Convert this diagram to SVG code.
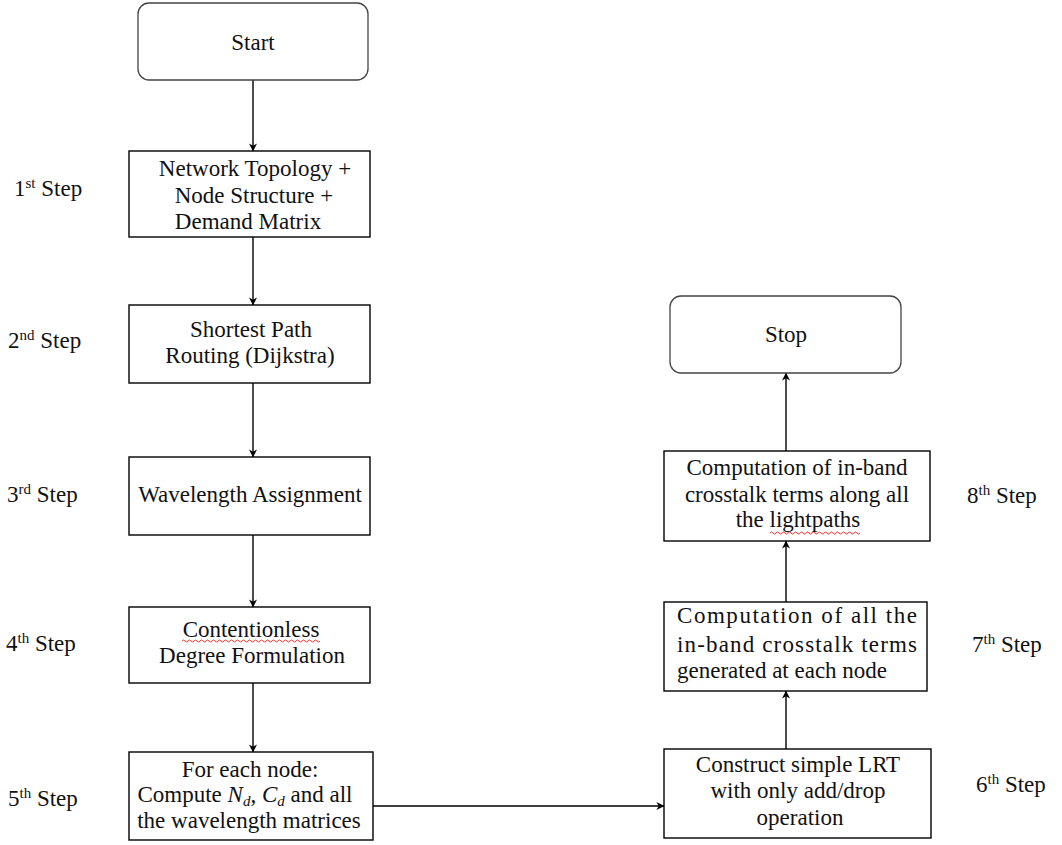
<svg xmlns="http://www.w3.org/2000/svg" width="1062" height="845" viewBox="0 0 1062 845" style="font-family:'Liberation Serif',serif">
  <style>
    text, tspan { font-family: 'Liberation Serif', 'Times New Roman', serif !important; }
    .box { fill: #fff; stroke: #000; stroke-width: 1.4; }
    .term { fill: #fff; stroke: #444; stroke-width: 1.3; }
    .txt { font-size: 23px; fill: #111; }
    .mid { text-anchor: middle; }
    .sup { font-size: 15px; }
    .sub { font-size: 15px; }
    .edge { stroke: #000; stroke-width: 1.4; fill: none; marker-end: url(#arrow); }
    .squiggle { stroke: #e02020; stroke-width: 0.9; fill: none; }
  </style>
  <defs>
    <marker id="arrow" viewBox="0 0 10 10" refX="9.5" refY="5" markerWidth="8" markerHeight="8" markerUnits="userSpaceOnUse" orient="auto">
      <path d="M0,0 L10,5 L0,10 L3,5 Z" fill="#000"/>
    </marker>
  </defs>
  <rect width="1062" height="845" fill="#fff"/>

  <!-- connectors -->
  <g id="connectors">
    <line class="edge" x1="253" y1="80" x2="253" y2="151"/>
    <line class="edge" x1="253" y1="237" x2="253" y2="305"/>
    <line class="edge" x1="253" y1="383" x2="253" y2="457"/>
    <line class="edge" x1="253" y1="535" x2="253" y2="607"/>
    <line class="edge" x1="253" y1="683" x2="253" y2="752"/>
    <line class="edge" x1="373" y1="806" x2="664" y2="806"/>
    <line class="edge" x1="786" y1="749" x2="786" y2="691"/>
    <line class="edge" x1="786" y1="602" x2="786" y2="541"/>
    <line class="edge" x1="786" y1="451" x2="786" y2="373"/>
  </g>

  <!-- terminal nodes -->
  <g id="start">
    <rect class="term" x="138" y="3" width="230" height="77" rx="11"/>
    <text class="txt mid" style="font-family:'Liberation Serif'" x="253" y="50">Start</text>
  </g>
  <g id="stop">
    <rect class="term" x="670" y="296" width="231" height="77" rx="11"/>
    <text class="txt mid" style="font-family:'Liberation Serif'" x="786" y="342">Stop</text>
  </g>

  <!-- left column -->
  <g id="step1">
    <rect class="box" x="129" y="151" width="241" height="86"/>
    <text class="txt mid" style="font-family:'Liberation Serif'" x="255" y="176">Network Topology +</text>
    <text class="txt mid" style="font-family:'Liberation Serif'" x="254" y="203">Node Structure +</text>
    <text class="txt mid" style="font-family:'Liberation Serif'" x="248" y="229">Demand Matrix</text>
  </g>
  <g id="step2">
    <rect class="box" x="129" y="305" width="241" height="78"/>
    <text class="txt mid" style="font-family:'Liberation Serif'" x="251" y="337">Shortest Path</text>
    <text class="txt mid" style="font-family:'Liberation Serif'" x="250" y="363">Routing (Dijkstra)</text>
  </g>
  <g id="step3">
    <rect class="box" x="129" y="457" width="241" height="78"/>
    <text class="txt mid" style="font-family:'Liberation Serif'" x="250" y="502">Wavelength Assignment</text>
  </g>
  <g id="step4">
    <rect class="box" x="129" y="607" width="241" height="76"/>
    <text class="txt mid" style="font-family:'Liberation Serif'" x="251" y="637">Contentionless</text>
    <path class="squiggle" d="M182,641 q1.5,-2 3,0 t3,0 t3,0 t3,0 t3,0 t3,0 t3,0 t3,0 t3,0 t3,0 t3,0 t3,0 t3,0 t3,0 t3,0 t3,0 t3,0 t3,0 t3,0 t3,0 t3,0 t3,0 t3,0 t3,0 t3,0 t3,0 t3,0 t3,0 t3,0 t3,0 t3,0 t3,0 t3,0 t3,0 t3,0 t3,0 t3,0 t3,0 t3,0 t3,0 t3,0 t3,0 t3,0 t3,0 t3,0 t3,0"/>
    <text class="txt mid" style="font-family:'Liberation Serif'" x="252" y="663">Degree Formulation</text>
  </g>
  <g id="step5">
    <rect class="box" x="129" y="752" width="244" height="88"/>
    <text class="txt mid" style="font-family:'Liberation Serif'" x="250" y="777">For each node:</text>
    <text class="txt mid" style="font-family:'Liberation Serif'" x="245" y="802">Compute <tspan font-style="italic">N</tspan><tspan font-style="italic" class="sub" dy="4">d</tspan><tspan dy="-4">, </tspan><tspan font-style="italic">C</tspan><tspan font-style="italic" class="sub" dy="4">d</tspan><tspan dy="-4"> and all</tspan></text>
    <text class="txt mid" style="font-family:'Liberation Serif'" x="249" y="828">the wavelength matrices</text>
  </g>

  <!-- right column -->
  <g id="step6">
    <rect class="box" x="664" y="749" width="267" height="89"/>
    <text class="txt mid" style="font-family:'Liberation Serif'" x="798" y="772">Construct simple LRT</text>
    <text class="txt mid" style="font-family:'Liberation Serif'" x="798" y="798">with only add/drop</text>
    <text class="txt mid" style="font-family:'Liberation Serif'" x="800" y="825">operation</text>
  </g>
  <g id="step7">
    <rect class="box" x="664" y="602" width="263" height="89"/>
    <text class="txt" style="font-family:'Liberation Serif'" x="677" y="623" textLength="240" lengthAdjust="spacing">Computation of all the</text>
    <text class="txt" style="font-family:'Liberation Serif'" x="677" y="652" textLength="240" lengthAdjust="spacing">in-band crosstalk terms</text>
    <text class="txt" style="font-family:'Liberation Serif'" x="677" y="678">generated at each node</text>
  </g>
  <g id="step8">
    <rect class="box" x="664" y="451" width="266" height="90"/>
    <text class="txt mid" style="font-family:'Liberation Serif'" x="797" y="475">Computation of in-band</text>
    <text class="txt mid" style="font-family:'Liberation Serif'" x="797" y="502">crosstalk terms along all</text>
    <text class="txt mid" style="font-family:'Liberation Serif'" x="798" y="527">the lightpaths</text>
    <path class="squiggle" d="M770,533 q1.5,-2 3,0 t3,0 t3,0 t3,0 t3,0 t3,0 t3,0 t3,0 t3,0 t3,0 t3,0 t3,0 t3,0 t3,0 t3,0 t3,0 t3,0 t3,0 t3,0 t3,0 t3,0 t3,0 t3,0 t3,0 t3,0 t3,0 t3,0 t3,0 t3,0 t3,0"/>
  </g>

  <!-- step labels -->
  <g id="labels">
    <text class="txt" style="font-family:'Liberation Serif'" x="14" y="196">1<tspan class="sup" dy="-8">st</tspan><tspan dy="8"> Step</tspan></text>
    <text class="txt" style="font-family:'Liberation Serif'" x="8" y="348">2<tspan class="sup" dy="-8">nd</tspan><tspan dy="8"> Step</tspan></text>
    <text class="txt" style="font-family:'Liberation Serif'" x="7" y="502">3<tspan class="sup" dy="-8">rd</tspan><tspan dy="8"> Step</tspan></text>
    <text class="txt" style="font-family:'Liberation Serif'" x="6" y="651">4<tspan class="sup" dy="-8">th</tspan><tspan dy="8"> Step</tspan></text>
    <text class="txt" style="font-family:'Liberation Serif'" x="8" y="806">5<tspan class="sup" dy="-8">th</tspan><tspan dy="8"> Step</tspan></text>
    <text class="txt" style="font-family:'Liberation Serif'" x="967" y="503">8<tspan class="sup" dy="-8">th</tspan><tspan dy="8"> Step</tspan></text>
    <text class="txt" style="font-family:'Liberation Serif'" x="972" y="652">7<tspan class="sup" dy="-8">th</tspan><tspan dy="8"> Step</tspan></text>
    <text class="txt" style="font-family:'Liberation Serif'" x="976" y="792">6<tspan class="sup" dy="-8">th</tspan><tspan dy="8"> Step</tspan></text>
  </g>
</svg>
